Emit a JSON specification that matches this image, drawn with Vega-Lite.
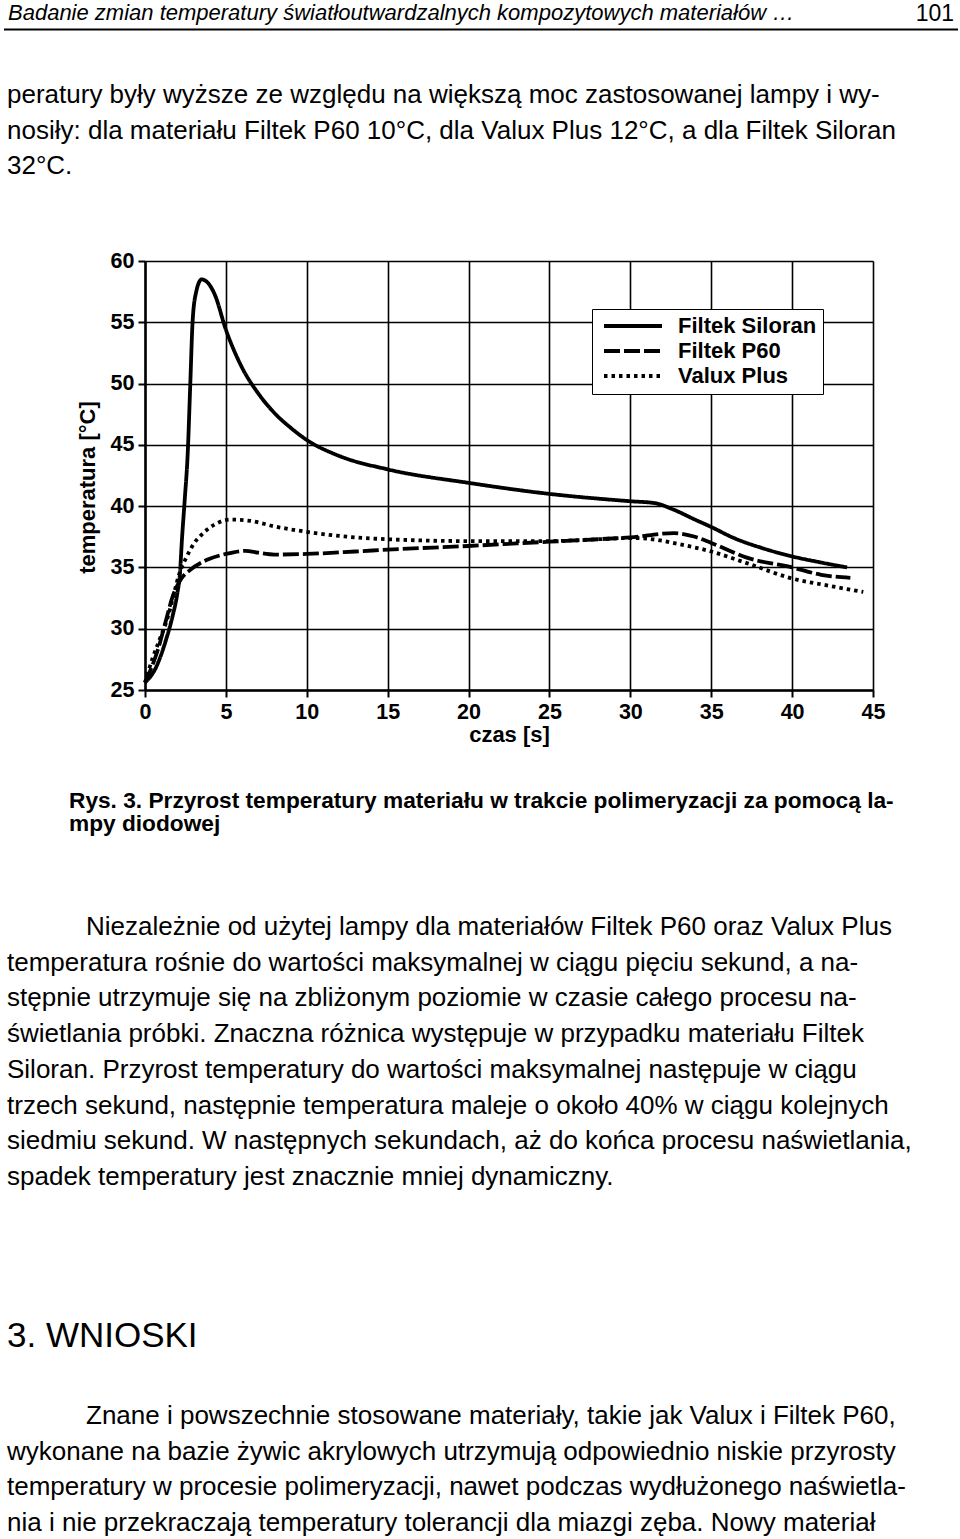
{
  "$schema": "https://vega.github.io/schema/vega-lite/v6.json",
  "background": "white",
  "padding": {"left": 3, "top": 0, "right": 0, "bottom": 0},
  "spacing": 0,
  "bounds": "flush",
  "config": {"view": {"stroke": null}, "font": "Liberation Sans"},
  "vconcat": [
    {
      "width": 728,
      "height": 261,
      "resolve": {"scale": {"y": "independent"}},
      "layer": [
        {
          "data": {"values": [{"text": "Badanie zmian temperatury światłoutwardzalnych kompozytowych materiałów …"}]},
          "mark": {"type": "text", "align": "left", "baseline": "alphabetic", "font": "Liberation Sans", "fontStyle": "italic", "fontSize": 22, "color": "black"},
          "encoding": {"text": {"field": "text", "type": "nominal"}, "x": {"value": -137}, "y": {"value": 20}}
        },
        {
          "data": {"values": [{"text": "101"}]},
          "mark": {"type": "text", "align": "right", "baseline": "alphabetic", "font": "Liberation Sans", "fontSize": 23, "color": "black"},
          "encoding": {"text": {"field": "text", "type": "nominal"}, "x": {"value": 809}, "y": {"value": 21}}
        },
        {
          "data": {"values": [{"part": "header rule"}]},
          "mark": {"type": "rule", "color": "black", "strokeWidth": 2},
          "encoding": {"x": {"value": -141}, "x2": {"value": 813}, "y": {"value": 29.5}}
        },
        {
          "data": {"values": [
            {"line": 0, "text": "peratury były wyższe ze względu na większą moc zastosowanej lampy i wy-"},
            {"line": 1, "text": "nosiły: dla materiału Filtek P60 10°C, dla Valux Plus 12°C, a dla Filtek Siloran"},
            {"line": 2, "text": "32°C."}
          ]},
          "mark": {"type": "text", "align": "left", "baseline": "alphabetic", "font": "Liberation Sans", "fontSize": 26, "color": "black"},
          "encoding": {
            "text": {"field": "text", "type": "nominal"},
            "x": {"value": -138},
            "y": {"field": "line", "type": "quantitative", "scale": {"domain": [0, 1], "range": [103, 138.5]}, "axis": null}
          }
        }
      ]
    },
    {
      "width": 728,
      "height": 429,
      "data": {"values": [
        {"series": "Filtek Siloran", "t": 0, "temp": 25.6},
        {"series": "Filtek Siloran", "t": 0.7, "temp": 26.9},
        {"series": "Filtek Siloran", "t": 1.3, "temp": 29.1},
        {"series": "Filtek Siloran", "t": 1.7, "temp": 31.0},
        {"series": "Filtek Siloran", "t": 2.0, "temp": 32.9},
        {"series": "Filtek Siloran", "t": 2.16, "temp": 34.5},
        {"series": "Filtek Siloran", "t": 2.28, "temp": 37.2},
        {"series": "Filtek Siloran", "t": 2.46, "temp": 40.6},
        {"series": "Filtek Siloran", "t": 2.64, "temp": 44.3},
        {"series": "Filtek Siloran", "t": 2.8, "temp": 50.0},
        {"series": "Filtek Siloran", "t": 2.94, "temp": 55.0},
        {"series": "Filtek Siloran", "t": 3.15, "temp": 57.4},
        {"series": "Filtek Siloran", "t": 3.5, "temp": 58.5},
        {"series": "Filtek Siloran", "t": 3.9, "temp": 58.2},
        {"series": "Filtek Siloran", "t": 4.3, "temp": 57.3},
        {"series": "Filtek Siloran", "t": 5.0, "temp": 54.4},
        {"series": "Filtek Siloran", "t": 6.0, "temp": 51.3},
        {"series": "Filtek Siloran", "t": 7.0, "temp": 49.2},
        {"series": "Filtek Siloran", "t": 8.0, "temp": 47.6},
        {"series": "Filtek Siloran", "t": 9.0, "temp": 46.4},
        {"series": "Filtek Siloran", "t": 10.0, "temp": 45.4},
        {"series": "Filtek Siloran", "t": 12.0, "temp": 44.1},
        {"series": "Filtek Siloran", "t": 15.0, "temp": 43.0},
        {"series": "Filtek Siloran", "t": 20.0, "temp": 41.9},
        {"series": "Filtek Siloran", "t": 25.0, "temp": 41.0},
        {"series": "Filtek Siloran", "t": 30.0, "temp": 40.4},
        {"series": "Filtek Siloran", "t": 31.5, "temp": 40.25},
        {"series": "Filtek Siloran", "t": 32.7, "temp": 39.7},
        {"series": "Filtek Siloran", "t": 34.0, "temp": 38.9},
        {"series": "Filtek Siloran", "t": 35.0, "temp": 38.3},
        {"series": "Filtek Siloran", "t": 36.4, "temp": 37.4},
        {"series": "Filtek Siloran", "t": 38.1, "temp": 36.6},
        {"series": "Filtek Siloran", "t": 40.0, "temp": 35.9},
        {"series": "Filtek Siloran", "t": 41.8, "temp": 35.4},
        {"series": "Filtek Siloran", "t": 43.4, "temp": 35.0},
        {"series": "Filtek P60", "t": 0, "temp": 25.6},
        {"series": "Filtek P60", "t": 0.3, "temp": 26.5},
        {"series": "Filtek P60", "t": 0.8, "temp": 28.3},
        {"series": "Filtek P60", "t": 1.3, "temp": 30.7},
        {"series": "Filtek P60", "t": 1.7, "temp": 32.6},
        {"series": "Filtek P60", "t": 2.2, "temp": 34.0},
        {"series": "Filtek P60", "t": 2.8, "temp": 34.8},
        {"series": "Filtek P60", "t": 3.8, "temp": 35.6},
        {"series": "Filtek P60", "t": 5.0, "temp": 36.1},
        {"series": "Filtek P60", "t": 6.2, "temp": 36.35},
        {"series": "Filtek P60", "t": 7.0, "temp": 36.2},
        {"series": "Filtek P60", "t": 8.0, "temp": 36.05},
        {"series": "Filtek P60", "t": 10.0, "temp": 36.1},
        {"series": "Filtek P60", "t": 13.0, "temp": 36.3},
        {"series": "Filtek P60", "t": 15.0, "temp": 36.45},
        {"series": "Filtek P60", "t": 20.0, "temp": 36.75},
        {"series": "Filtek P60", "t": 25.0, "temp": 37.1},
        {"series": "Filtek P60", "t": 28.0, "temp": 37.3},
        {"series": "Filtek P60", "t": 30.0, "temp": 37.45},
        {"series": "Filtek P60", "t": 32.7, "temp": 37.8},
        {"series": "Filtek P60", "t": 34.0, "temp": 37.5},
        {"series": "Filtek P60", "t": 35.0, "temp": 37.0},
        {"series": "Filtek P60", "t": 37.2, "temp": 35.8},
        {"series": "Filtek P60", "t": 40.0, "temp": 35.0},
        {"series": "Filtek P60", "t": 41.8, "temp": 34.4},
        {"series": "Filtek P60", "t": 43.6, "temp": 34.15},
        {"series": "Valux Plus", "t": 0, "temp": 25.6},
        {"series": "Valux Plus", "t": 0.47, "temp": 27.6},
        {"series": "Valux Plus", "t": 0.9, "temp": 29.1},
        {"series": "Valux Plus", "t": 1.4, "temp": 30.9},
        {"series": "Valux Plus", "t": 1.8, "temp": 32.9},
        {"series": "Valux Plus", "t": 2.1, "temp": 34.4},
        {"series": "Valux Plus", "t": 2.55, "temp": 35.8},
        {"series": "Valux Plus", "t": 3.05, "temp": 37.0},
        {"series": "Valux Plus", "t": 3.6, "temp": 37.8},
        {"series": "Valux Plus", "t": 4.3, "temp": 38.5},
        {"series": "Valux Plus", "t": 5.3, "temp": 38.9},
        {"series": "Valux Plus", "t": 6.5, "temp": 38.8},
        {"series": "Valux Plus", "t": 8.0, "temp": 38.35},
        {"series": "Valux Plus", "t": 10.0, "temp": 37.9},
        {"series": "Valux Plus", "t": 13.0, "temp": 37.45},
        {"series": "Valux Plus", "t": 15.0, "temp": 37.3},
        {"series": "Valux Plus", "t": 20.0, "temp": 37.15},
        {"series": "Valux Plus", "t": 25.0, "temp": 37.15},
        {"series": "Valux Plus", "t": 28.0, "temp": 37.3},
        {"series": "Valux Plus", "t": 30.0, "temp": 37.4},
        {"series": "Valux Plus", "t": 31.0, "temp": 37.35},
        {"series": "Valux Plus", "t": 33.0, "temp": 36.9},
        {"series": "Valux Plus", "t": 35.0, "temp": 36.3},
        {"series": "Valux Plus", "t": 37.2, "temp": 35.35},
        {"series": "Valux Plus", "t": 40.0, "temp": 34.1},
        {"series": "Valux Plus", "t": 42.3, "temp": 33.5},
        {"series": "Valux Plus", "t": 44.4, "temp": 33.0}
      ]},
      "mark": {"type": "line", "interpolate": "monotone", "strokeWidth": 3.8, "color": "black", "strokeCap": "butt"},
      "encoding": {
        "x": {
          "field": "t", "type": "quantitative",
          "scale": {"domain": [0, 45], "nice": false, "zero": false},
          "axis": {
            "values": [0, 5, 10, 15, 20, 25, 30, 35, 40, 45],
            "title": "czas [s]",
            "grid": true, "gridColor": "black", "gridWidth": 1.6, "gridOpacity": 1,
            "domainColor": "black", "domainWidth": 2.5,
            "tickColor": "black", "tickWidth": 2, "tickSize": 7,
            "labelFont": "Liberation Sans", "labelFontSize": 21.5, "labelFontWeight": "bold", "labelColor": "black",
            "labelFlush": false, "labelOverlap": false, "labelPadding": 4,
            "titleFont": "Liberation Sans", "titleFontSize": 22, "titleFontWeight": "bold", "titleColor": "black", "titlePadding": 2
          }
        },
        "y": {
          "field": "temp", "type": "quantitative",
          "scale": {"domain": [25, 60], "nice": false, "zero": false},
          "axis": {
            "values": [25, 30, 35, 40, 45, 50, 55, 60],
            "title": "temperatura [°C]",
            "grid": true, "gridColor": "black", "gridWidth": 1.6, "gridOpacity": 1,
            "domainColor": "black", "domainWidth": 2.5,
            "tickColor": "black", "tickWidth": 2, "tickSize": 7,
            "labelFont": "Liberation Sans", "labelFontSize": 21.5, "labelFontWeight": "bold", "labelColor": "black",
            "labelFlush": false, "labelOverlap": false, "labelPadding": 4,
            "titleFont": "Liberation Sans", "titleFontSize": 22, "titleFontWeight": "bold", "titleColor": "black", "titlePadding": 11,
            "titleY": 226
          }
        },
        "strokeDash": {
          "field": "series", "type": "nominal",
          "scale": {"domain": ["Filtek Siloran", "Filtek P60", "Valux Plus"], "range": [[1, 0], [16, 4], [3.5, 4]]},
          "legend": {
            "title": null, "orient": "none", "legendX": 447, "legendY": 309,
            "fillColor": "white", "strokeColor": "black", "padding": 6.5,
            "symbolType": "stroke", "symbolSize": 3364, "symbolStrokeWidth": 4, "symbolStrokeColor": "black",
            "symbolOffset": 3.5, "clipHeight": 21,
            "labelFont": "Liberation Sans", "labelFontSize": 22, "labelFontWeight": "bold", "labelColor": "black",
            "labelOffset": 14, "rowPadding": 2, "labelLimit": 400
          }
        }
      }
    },
    {
      "width": 728,
      "height": 849,
      "resolve": {"scale": {"y": "independent"}},
      "layer": [
        {
          "data": {"values": [
            {"line": 0, "text": "Rys. 3. Przyrost temperatury materiału w trakcie polimeryzacji za pomocą la-"},
            {"line": 1, "text": "mpy diodowej"}
          ]},
          "mark": {"type": "text", "align": "left", "baseline": "alphabetic", "font": "Liberation Sans", "fontWeight": "bold", "fontSize": 22.7, "color": "black"},
          "encoding": {
            "text": {"field": "text", "type": "nominal"},
            "x": {"value": -76},
            "y": {"field": "line", "type": "quantitative", "scale": {"domain": [0, 1], "range": [118, 141]}, "axis": null}
          }
        },
        {
          "data": {"values": [
            {"line": 0, "text": "Niezależnie od użytej lampy dla materiałów Filtek P60 oraz Valux Plus"},
            {"line": 1, "text": "temperatura rośnie do wartości maksymalnej w ciągu pięciu sekund, a na-"},
            {"line": 2, "text": "stępnie utrzymuje się na zbliżonym poziomie w czasie całego procesu na-"},
            {"line": 3, "text": "świetlania próbki. Znaczna różnica występuje w przypadku materiału Filtek"},
            {"line": 4, "text": "Siloran. Przyrost temperatury do wartości maksymalnej następuje w ciągu"},
            {"line": 5, "text": "trzech sekund, następnie temperatura maleje o około 40% w ciągu kolejnych"},
            {"line": 6, "text": "siedmiu sekund. W następnych sekundach, aż do końca procesu naświetlania,"},
            {"line": 7, "text": "spadek temperatury jest znacznie mniej dynamiczny."}
          ]},
          "layer": [
            {
              "transform": [{"filter": "datum.line == 0"}],
              "mark": {"type": "text", "align": "left", "baseline": "alphabetic", "font": "Liberation Sans", "fontSize": 26, "color": "black"},
              "encoding": {
                "text": {"field": "text", "type": "nominal"},
                "x": {"value": -59},
                "y": {"field": "line", "type": "quantitative", "scale": {"domain": [0, 1], "range": [245, 280.7]}, "axis": null}
              }
            },
            {
              "transform": [{"filter": "datum.line > 0"}],
              "mark": {"type": "text", "align": "left", "baseline": "alphabetic", "font": "Liberation Sans", "fontSize": 26, "color": "black"},
              "encoding": {
                "text": {"field": "text", "type": "nominal"},
                "x": {"value": -138},
                "y": {"field": "line", "type": "quantitative", "scale": {"domain": [0, 1], "range": [245, 280.7]}, "axis": null}
              }
            }
          ]
        },
        {
          "data": {"values": [{"text": "3. WNIOSKI"}]},
          "mark": {"type": "text", "align": "left", "baseline": "alphabetic", "font": "Liberation Sans", "fontSize": 35, "color": "black"},
          "encoding": {"text": {"field": "text", "type": "nominal"}, "x": {"value": -138}, "y": {"value": 657}}
        },
        {
          "data": {"values": [
            {"line": 0, "text": "Znane i powszechnie stosowane materiały, takie jak Valux i Filtek P60,"},
            {"line": 1, "text": "wykonane na bazie żywic akrylowych utrzymują odpowiednio niskie przyrosty"},
            {"line": 2, "text": "temperatury w procesie polimeryzacji, nawet podczas wydłużonego naświetla-"},
            {"line": 3, "text": "nia i nie przekraczają temperatury tolerancji dla miazgi zęba. Nowy materiał"}
          ]},
          "layer": [
            {
              "transform": [{"filter": "datum.line == 0"}],
              "mark": {"type": "text", "align": "left", "baseline": "alphabetic", "font": "Liberation Sans", "fontSize": 26, "color": "black"},
              "encoding": {
                "text": {"field": "text", "type": "nominal"},
                "x": {"value": -59},
                "y": {"field": "line", "type": "quantitative", "scale": {"domain": [0, 1], "range": [734, 769.7]}, "axis": null}
              }
            },
            {
              "transform": [{"filter": "datum.line > 0"}],
              "mark": {"type": "text", "align": "left", "baseline": "alphabetic", "font": "Liberation Sans", "fontSize": 26, "color": "black"},
              "encoding": {
                "text": {"field": "text", "type": "nominal"},
                "x": {"value": -138},
                "y": {"field": "line", "type": "quantitative", "scale": {"domain": [0, 1], "range": [734, 769.7]}, "axis": null}
              }
            }
          ]
        }
      ]
    }
  ]
}
